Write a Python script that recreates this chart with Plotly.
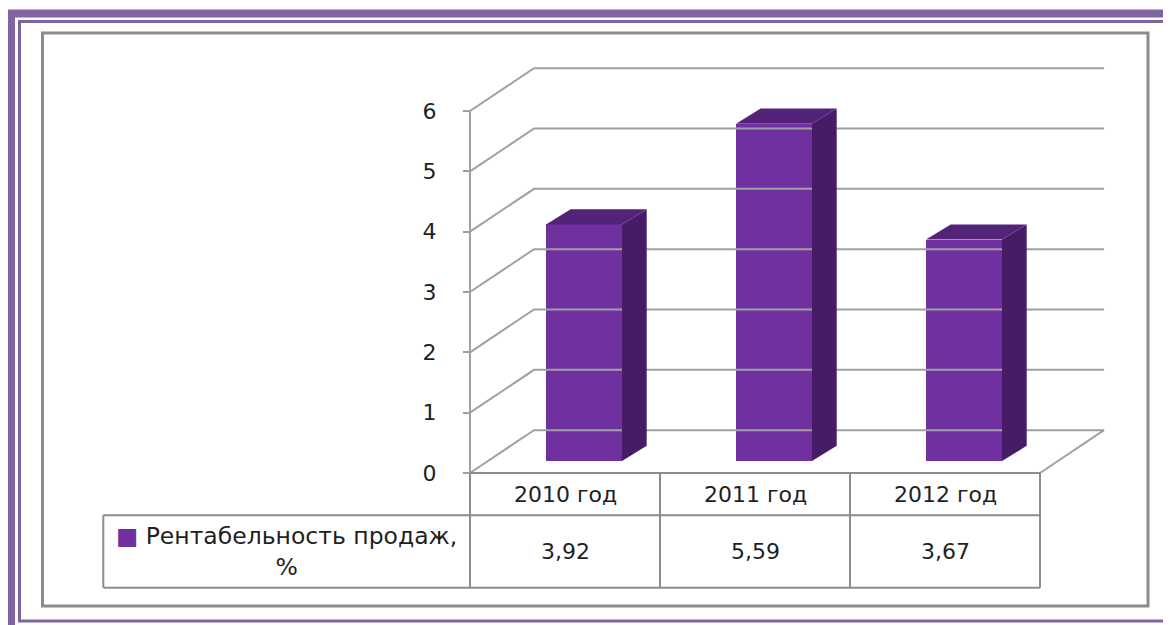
import numpy as np
import plotly.graph_objects as go

# ---------------- data ----------------
categories = ["2010 год", "2011 год", "2012 год"]
values = [3.92, 5.59, 3.67]
series_name = "Рентабельность продаж,<br>%"
y_ticks = [0, 1, 2, 3, 4, 5, 6]

# ---------------- style / geometry ----------------
BAR_COLOR = "#7030A0"
SIDE_COLOR = "#461C66"
TOP_COLOR = "#53237A"
GRID_COLOR = "#A0A0A0"
TABLE_COLOR = "#8C8C8C"
FRAME_PURPLE = "#8064A2"
FONT = "DejaVu Sans"
TXT = "#1f1f1f"

# the page body has an 8px margin; figure sized to fill the rest of the window
PAGE_OFF = 8
W, H = 1171 - PAGE_OFF, 625 - PAGE_OFF
X_RANGE = [-2.9316, 3.1895]
Y_RANGE = [-2.5195, 7.7076]
AXIS_POS = (470 - PAGE_OFF) / W

WALL_DX, WALL_DY = 0.337, 0.71        # depth of the 3D box
BAR_SHIFT_X, BAR_SHIFT_Y = 0.10, 0.20 # bars sit inside the box
BAR_W = 0.40
BAR_DX, BAR_DY = 0.13, 0.25           # bar depth
HEAD_H = 0.70                          # table header row height
ROW_H = 1.20                           # table value row height
LEG_LEFT = -2.43                       # left edge of legend cell

n = len(categories)
pos = np.arange(n)
x_left = -0.5
x_right = n - 0.5
back_right = x_right + WALL_DX

fig = go.Figure()


def add_line(xs, ys, color=GRID_COLOR, width=2):
    fig.add_trace(go.Scatter(x=xs, y=ys, mode="lines",
                             line=dict(color=color, width=width),
                             hoverinfo="skip", showlegend=False))


# gridlines (side wall diagonal + back wall horizontal)
for t in y_ticks:
    add_line([x_left, x_left + WALL_DX, back_right], [t, t + WALL_DY, t + WALL_DY])

# floor right edge
add_line([x_right, back_right], [0, WALL_DY])
# front vertical axis line
add_line([x_left, x_left], [y_ticks[0], y_ticks[-1]])

# bars - front faces
fig.add_trace(go.Bar(x=pos + BAR_SHIFT_X, y=values, base=BAR_SHIFT_Y, width=BAR_W,
                     marker=dict(color=BAR_COLOR, line=dict(width=0)),
                     hoverinfo="skip", showlegend=False))

# bars - side and top faces
for p, v in zip(pos, values):
    xl = p + BAR_SHIFT_X - BAR_W / 2
    xr = p + BAR_SHIFT_X + BAR_W / 2
    b = BAR_SHIFT_Y
    t = BAR_SHIFT_Y + v
    fig.add_trace(go.Scatter(
        x=[xr, xr + BAR_DX, xr + BAR_DX, xr, xr],
        y=[b, b + BAR_DY, t + BAR_DY, t, b],
        fill="toself", fillcolor=SIDE_COLOR, mode="lines",
        line=dict(width=0, color=SIDE_COLOR), hoverinfo="skip", showlegend=False))
    fig.add_trace(go.Scatter(
        x=[xl, xl + BAR_DX, xr + BAR_DX, xr, xl],
        y=[t, t + BAR_DY, t + BAR_DY, t, t],
        fill="toself", fillcolor=TOP_COLOR, mode="lines",
        line=dict(width=0, color=TOP_COLOR), hoverinfo="skip", showlegend=False))

# data table
y_head_bot = -HEAD_H
y_row_bot = -HEAD_H - ROW_H
add_line([x_left, x_right], [0, 0], TABLE_COLOR)
add_line([LEG_LEFT, x_right], [y_head_bot, y_head_bot], TABLE_COLOR)
add_line([LEG_LEFT, x_right], [y_row_bot, y_row_bot], TABLE_COLOR)
add_line([LEG_LEFT, LEG_LEFT], [y_head_bot, y_row_bot], TABLE_COLOR)
for k in range(n + 1):
    xb = k - 0.5
    add_line([xb, xb], [0, y_row_bot], TABLE_COLOR)

annotations = []
for p, c, v in zip(pos, categories, values):
    annotations.append(dict(x=p, y=y_head_bot / 2, text=c, showarrow=False,
                            xref="x", yref="y",
                            font=dict(family=FONT, size=22, color=TXT)))
    annotations.append(dict(x=p, y=(y_head_bot + y_row_bot) / 2,
                            text=f"{v:.2f}".replace(".", ","), showarrow=False,
                            xref="x", yref="y",
                            font=dict(family=FONT, size=22, color=TXT)))
annotations.append(dict(x=(LEG_LEFT + x_left) / 2, y=(y_head_bot + y_row_bot) / 2,
                        text=f"<span style='color:{BAR_COLOR}'>■</span> " + series_name,
                        showarrow=False, xref="x", yref="y", align="center",
                        font=dict(family=FONT, size=23.5, color=TXT)))


def px_x(v):
    return (v - PAGE_OFF) / W


def px_y(v):
    return 1 - (v - PAGE_OFF) / H


# frames (decoration around the chart)
shapes = [
    dict(type="rect", xref="paper", yref="paper", x0=px_x(11), x1=px_x(1200),
         y0=px_y(13.5), y1=px_y(680), line=dict(color=FRAME_PURPLE, width=8)),
    dict(type="rect", xref="paper", yref="paper", x0=px_x(19.5), x1=px_x(1169.5),
         y0=px_y(21.5), y1=px_y(621), line=dict(color=FRAME_PURPLE, width=3)),
    dict(type="rect", xref="paper", yref="paper", x0=px_x(42.5), x1=px_x(1148),
         y0=px_y(33), y1=px_y(606), line=dict(color=TABLE_COLOR, width=3)),
]

fig.update_layout(
    width=W, height=H,
    margin=dict(l=0, r=0, t=0, b=0),
    paper_bgcolor="white", plot_bgcolor="white",
    showlegend=False,
    xaxis=dict(range=X_RANGE, visible=False, fixedrange=True),
    yaxis=dict(range=Y_RANGE, anchor="free", position=AXIS_POS,
               tickvals=y_ticks, ticktext=[str(t) for t in y_ticks],
               ticks="outside", ticklen=7, tickwidth=2, tickcolor=GRID_COLOR,
               ticklabelstandoff=22,
               showgrid=False, zeroline=False, showline=False,
               tickfont=dict(family=FONT, size=22, color=TXT),
               fixedrange=True),
    annotations=annotations,
    shapes=shapes,
    bargap=0,
)

fig.write_html("out.html")
